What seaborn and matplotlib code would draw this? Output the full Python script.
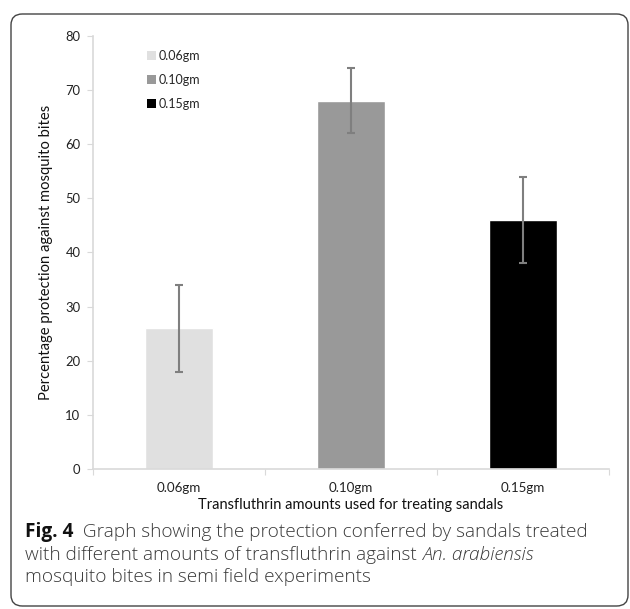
import numpy as np
import pandas as pd
import matplotlib
matplotlib.use("Agg")
import matplotlib.pyplot as plt
import seaborn as sns
from matplotlib.patches import FancyBboxPatch, Patch

# Dados
doses = ["0.06gm", "0.10gm", "0.15gm"]
protecao = [26, 68, 46]
erro = [8, 6, 8]
cores = ["#e0e0e0", "#999999", "#000000"]

y_ticks = [0, 10, 20, 30, 40, 50, 60, 70, 80]

df = pd.DataFrame({"dose": doses, "protecao": protecao})

sns.set_theme(style="white")
plt.rcParams["font.family"] = ["Lato", "DejaVu Sans"]

fig = plt.figure(figsize=(6.3, 6.09), dpi=100)
ax = fig.add_axes([93 / 630, 1 - 469 / 609, 516 / 630, 433 / 609])

sns.barplot(data=df, x="dose", y="protecao", hue="dose", palette=cores,
            width=0.4, dodge=False, legend=False, ax=ax)
ax.errorbar(x=np.arange(len(doses)), y=protecao, yerr=erro, fmt="none",
            ecolor="#7f7f7f", elinewidth=1.5, capsize=2.6, capthick=1.5)

ax.set_xlim(-0.5, 2.5)
ax.set_ylim(0, 80)
ax.set_yticks(y_ticks)
ax.tick_params(axis="y", labelsize=9.4, length=4, width=0.8, color="#d9d9d9",
               left=True, pad=5, labelcolor="#222222")
ax.tick_params(axis="x", which="major", labelsize=9.6, length=0, pad=9.5,
               labelcolor="#222222")
ax.set_xticks([-0.5, 0.5, 1.5, 2.5], minor=True)
ax.tick_params(axis="x", which="minor", length=4, width=0.8, color="#d9d9d9",
               bottom=True)
for s in ["top", "right"]:
    ax.spines[s].set_visible(False)
for s in ["left", "bottom"]:
    ax.spines[s].set_color("#d9d9d9")
    ax.spines[s].set_linewidth(1.2)

ax.set_xlabel("Transfluthrin amounts used for treating sandals", fontsize=10.5,
              labelpad=3, color="#111111")
ax.set_ylabel("Percentage protection against mosquito bites", fontsize=10.6,
              labelpad=9, color="#111111")

handles = [Patch(facecolor=c, edgecolor="none", label=d) for d, c in zip(doses, cores)]
ax.legend(handles=handles, loc="upper left", bbox_to_anchor=(147 / 630, 1 - 50 / 609),
          bbox_transform=fig.transFigure, frameon=False, fontsize=9,
          handlelength=0.68, handleheight=0.68, handletextpad=0.28, labelspacing=0.95,
          borderpad=0, borderaxespad=0)

# moldura arredondada
caixa = FancyBboxPatch((11 / 630, 3 / 609), 617 / 630, 592 / 609,
                       boxstyle="round,pad=0,rounding_size=0.018",
                       transform=fig.transFigure, facecolor="none",
                       edgecolor="#444444", linewidth=1.0)
fig.patches.append(caixa)

# legenda da figura (texto com partes em negrito e itálico)
fig.canvas.draw()
r = fig.canvas.get_renderer()
linhas = [
    [("Fig. 4", "bold", "normal", "#111111"),
     ("  Graph showing the protection conferred by sandals treated", "light", "normal", "#3a3a3a")],
    [("with different amounts of transfluthrin against ", "light", "normal", "#3a3a3a"),
     ("An. arabiensis", "light", "italic", "#3a3a3a")],
    [("mosquito bites in semi field experiments", "light", "normal", "#3a3a3a")],
]
ys = [532, 555, 577]
for linha, yp in zip(linhas, ys):
    x = 25 / 630
    y = 1 - yp / 609
    for txt, peso, estilo, cor in linha:
        t = fig.text(x, y, txt, fontsize=13.7, fontweight=peso, fontstyle=estilo,
                     family=["Open Sans", "DejaVu Sans"], color=cor,
                     va="center", ha="left")
        bb = t.get_window_extent(renderer=r)
        x += bb.width / fig.bbox.width

fig.savefig("out.png", dpi=100)
